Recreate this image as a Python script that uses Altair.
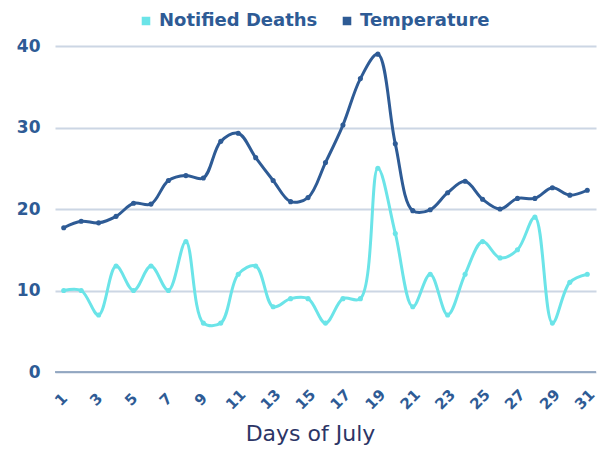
import altair as alt
import pandas as pd

days = list(range(1, 32))
temperature = [17.7, 18.5, 18.3, 19.1, 20.7, 20.6, 23.5, 24.1, 23.8, 28.3,
               29.3, 26.3, 23.5, 20.9, 21.4, 25.7, 30.3, 36.0, 39.0, 28.0,
               19.8, 19.9, 22.0, 23.4, 21.2, 20.0, 21.3, 21.3, 22.6, 21.7, 22.3]
deaths = [10, 10, 7, 13, 10, 13, 10, 16, 6, 6,
          12, 13, 8, 9, 9, 6, 9, 9, 25, 17,
          8, 12, 7, 12, 16, 14, 15, 19, 6, 11, 12]
series = ["Notified Deaths", "Temperature"]
colors = ["#6be4e8", "#2e5b95"]
x_ticks = list(range(1, 32, 2))
y_ticks = [0, 10, 20, 30, 40]

rows = []
for d, v in zip(days, deaths):
    rows.append({"day": d, "value": v, "series": series[0]})
for d, v in zip(days, temperature):
    rows.append({"day": d, "value": v, "series": series[1]})
df = pd.DataFrame(rows)

FONT = "DejaVu Sans"
TXT = "#2e5b95"

x = alt.X("day:Q", scale=alt.Scale(domain=[0.5, 31.5], nice=False, zero=False),
          axis=alt.Axis(values=x_ticks, title="Days of July", labelAngle=-45,
                        labelAlign="center", labelBaseline="middle", labelFlush=False,
                        labelOffset=-3,
                        labelFont=FONT, labelFontSize=15, labelFontWeight="bold",
                        labelColor=TXT, labelPadding=27, ticks=False, domain=False,
                        grid=False, titleFont=FONT, titleFontSize=22,
                        titleFontWeight="normal", titleColor="#2c3566",
                        titleX=255, titleY=68, titleBaseline="alphabetic",
                        titleAlign="center"))
y = alt.Y("value:Q", scale=alt.Scale(domain=[0, 40], nice=False),
          axis=alt.Axis(values=y_ticks, title=None, labelFont=FONT,
                        labelFontSize=17, labelFontWeight="bold", labelColor=TXT,
                        labelPadding=15, ticks=False, domain=False,
                        grid=True, gridColor="#ccd6e4", gridWidth=2))
color = alt.Color("series:N", scale=alt.Scale(domain=series, range=colors),
                  legend=alt.Legend(title=None, orient="none", direction="horizontal",
                                    legendX=82, legendY=-34, symbolType="square",
                                    symbolSize=50, labelFont=FONT, labelFontSize=18,
                                    labelFontWeight="bold", labelColor=TXT,
                                    columnPadding=20, labelOffset=4))

base = alt.Chart(df)
lines = base.mark_line(interpolate="catmull-rom", strokeWidth=3).encode(x=x, y=y, color=color)
pts = base.mark_point(filled=True, size=26, opacity=1).encode(x=x, y=y, color=color)
zero = alt.Chart(pd.DataFrame({"v": [0]})).mark_rule(color="#7f97b6", strokeWidth=1.5).encode(y="v:Q")

chart = alt.layer(lines, pts, zero).properties(
    width=541, height=326,
    autosize=alt.AutoSizeParams(type="none"),
    padding={"left": 47, "top": 38, "right": 4, "bottom": 74},
).configure_view(stroke=None)

chart.save("out.html", embed_options={"renderer": "svg", "actions": False})
